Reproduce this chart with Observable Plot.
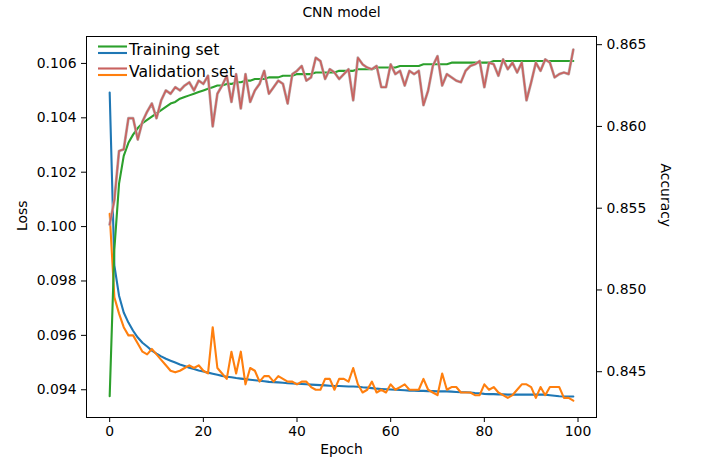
<!DOCTYPE html>
<html><head><meta charset="utf-8">
<script src="https://cdn.jsdelivr.net/npm/d3@7"></script>
<script src="https://cdn.jsdelivr.net/npm/@observablehq/plot@0.6"></script>
<style>
body{margin:0;background:#fff;}
#wrap{position:relative;width:701px;height:465px;font-family:"DejaVu Sans",sans-serif;}
#wrap svg{position:absolute;left:0;top:0;overflow:visible;}
</style></head><body><div id="wrap"></div>
<script>
const title = "CNN model";
const xLabel = "Epoch";
const lossLabel = "Loss";
const accLabel = "Accuracy";
const seriesNames = ["Training set", "Validation set"];
const xTicks = [0, 20, 40, 60, 80, 100];
const lossTicks = [0.094, 0.096, 0.098, 0.100, 0.102, 0.104, 0.106];
const accTicks = [0.845, 0.850, 0.855, 0.860, 0.865];

const trainLoss = [0.10493,0.09857,0.09746,0.09684,0.09647,0.09617,0.09592,0.09573,0.09559,0.09544,
0.09533,0.09523,0.09514,0.09507,0.09500,0.09493,0.09487,0.09481,0.09476,0.09471,
0.09467,0.09463,0.09459,0.09455,0.09451,0.09448,0.09446,0.09443,0.09441,0.09439,
0.09437,0.09435,0.09433,0.09431,0.09429,0.09428,0.09427,0.09426,0.09424,0.09423,
0.09422,0.09421,0.09420,0.09419,0.09418,0.09417,0.09416,0.09415,0.09414,0.09414,
0.09413,0.09412,0.09412,0.09411,0.09409,0.09408,0.09406,0.09404,0.09403,0.09402,
0.09401,0.09400,0.09399,0.09398,0.09397,0.09397,0.09396,0.09396,0.09395,0.09395,
0.09394,0.09394,0.09394,0.09393,0.09392,0.09391,0.09391,0.09390,0.09388,0.09387,
0.09385,0.09384,0.09384,0.09383,0.09383,0.09382,0.09382,0.09382,0.09382,0.09382,
0.09382,0.09382,0.09382,0.09382,0.09380,0.09378,0.09376,0.09375,0.09375,0.09375];

const valLoss = [0.10047,0.0974,0.0968,0.0963,0.0960,0.0960,0.0957,0.0954,0.0953,0.0955,
0.0953,0.0951,0.0949,0.0947,0.09464,0.0947,0.0948,0.0949,0.0948,0.0949,
0.0947,0.0946,0.0963,0.0948,0.0946,0.0944,0.0954,0.0946,0.0954,0.0942,
0.0948,0.0947,0.0943,0.0945,0.0945,0.0943,0.0945,0.0944,0.0943,0.0943,
0.0942,0.0943,0.0943,0.0941,0.0940,0.0940,0.0944,0.0944,0.0940,0.0944,
0.0944,0.0943,0.0948,0.0942,0.0939,0.0940,0.0943,0.0939,0.0940,0.0939,
0.0942,0.0940,0.0941,0.0942,0.0940,0.0940,0.0940,0.0944,0.0940,0.0939,
0.0938,0.0946,0.0940,0.0941,0.0941,0.0939,0.0939,0.0939,0.0938,0.0938,
0.0942,0.0940,0.0941,0.0939,0.0938,0.0937,0.0938,0.0940,0.0942,0.0942,
0.0941,0.0937,0.0941,0.0938,0.0941,0.0941,0.0941,0.0937,0.0937,0.0936];

const trainAcc = [0.8435,0.8525,0.8565,0.8582,0.8590,0.8595,0.8599,0.8602,0.8604,0.8606,
0.8608,0.8610,0.8612,0.8614,0.8615,0.8617,0.8618,0.8619,0.8620,0.8621,
0.8622,0.8623,0.8624,0.8625,0.8625,0.8626,0.8626,0.8627,0.8627,0.8628,
0.8628,0.8629,0.8629,0.8629,0.8630,0.8630,0.8630,0.8631,0.8631,0.8631,
0.8632,0.8632,0.8632,0.8632,0.8633,0.8633,0.8633,0.8633,0.8633,0.8634,
0.8634,0.8634,0.8634,0.8635,0.8635,0.8635,0.8635,0.8636,0.8636,0.8636,
0.8636,0.8636,0.8637,0.8637,0.8637,0.8637,0.8637,0.8638,0.8638,0.8638,
0.8638,0.8638,0.8638,0.8639,0.8639,0.8639,0.8639,0.8639,0.8639,0.8639,
0.8639,0.8639,0.8640,0.8640,0.8640,0.8640,0.8640,0.8640,0.8640,0.8640,
0.8640,0.8640,0.8640,0.8640,0.8640,0.8640,0.8640,0.8640,0.8640,0.8640];

const valAcc = [0.8540,0.8555,0.8585,0.8586,0.8605,0.8605,0.8592,0.8603,0.8609,0.8614,
0.8605,0.8616,0.8622,0.8620,0.8624,0.8622,0.8625,0.8627,0.8622,0.8628,
0.8626,0.8631,0.8600,0.8620,0.8625,0.8631,0.8615,0.8632,0.8611,0.8632,
0.8615,0.8622,0.8626,0.8634,0.8620,0.8624,0.8628,0.8626,0.8614,0.8632,
0.8634,0.8637,0.8628,0.8630,0.8642,0.8640,0.8629,0.8635,0.8633,0.8629,
0.8632,0.8635,0.8616,0.8642,0.8638,0.8636,0.8635,0.8637,0.8624,0.8624,
0.8638,0.8632,0.8634,0.8625,0.8634,0.8632,0.8634,0.8613,0.8622,0.8637,
0.8643,0.8625,0.8632,0.8630,0.8628,0.8627,0.8634,0.8637,0.8638,0.8640,
0.8624,0.8639,0.8638,0.8631,0.8641,0.8635,0.8639,0.8633,0.8639,0.8616,
0.8627,0.8639,0.8634,0.8641,0.8639,0.8630,0.8632,0.8633,0.8632,0.8647];

const colors = {trainLoss:"#1f77b4", valLoss:"#ff7f0e", trainAcc:"#2ca02c", valAcc:"#c9625f"};

const rows = arr => arr.map((v, i) => ({epoch: i, value: v}));

const W = 701, H = 465, ML = 86, MR = 105, MT = 36, MB = 48;
const xDomain = [-4.95, 103.95];
const lossDomain = [0.09298, 0.10699];
const accDomain = [0.8422, 0.8655];
const font = "DejaVu Sans";
const common = {
  width: W, height: H, marginLeft: ML, marginRight: MR, marginTop: MT, marginBottom: MB,
  style: {fontFamily: font, fontSize: "13.9px", background: "transparent", color: "#000", overflow: "visible"}
};

const lossPlot = Plot.plot({
  ...common,
  x: {domain: xDomain, ticks: xTicks, tickFormat: d => String(d), label: null, tickSize: 5, tickPadding: 4},
  y: {domain: lossDomain, ticks: lossTicks, tickFormat: ".3f", label: null, tickSize: 5, tickPadding: 5},
  marks: [
    Plot.line(rows(trainLoss), {x: "epoch", y: "value", stroke: colors.trainLoss, strokeWidth: 2.1}),
    Plot.line(rows(valLoss), {x: "epoch", y: "value", stroke: colors.valLoss, strokeWidth: 2.1}),
    Plot.frame({stroke: "#000", strokeWidth: 1}),
    Plot.text([title], {frameAnchor: "top", dy: -24, lineAnchor: "middle", fontSize: 13.9, fill: "#000"}),
    Plot.text([xLabel], {frameAnchor: "bottom", dy: 36, fill: "#000"}),
    Plot.text([lossLabel], {frameAnchor: "left", dx: -64, dy: 4, rotate: -90, fill: "#000"})
  ]
});

const accPlot = Plot.plot({
  ...common,
  x: {domain: xDomain, axis: null},
  y: {domain: accDomain, axis: "right", ticks: accTicks, tickFormat: ".3f", label: null, tickSize: 5, tickPadding: 5},
  marks: [
    Plot.line(rows(trainAcc), {x: "epoch", y: "value", stroke: colors.trainAcc, strokeWidth: 2.1}),
    Plot.line(rows(valAcc), {x: "epoch", y: "value", stroke: "#b9aaaa", strokeWidth: 2.8}),
    Plot.line(rows(valAcc), {x: "epoch", y: "value", stroke: colors.valAcc, strokeWidth: 1.6}),
    Plot.text([accLabel], {frameAnchor: "right", dx: 69, rotate: 90, fill: "#000"})
  ]
});

const wrap = document.getElementById("wrap");
wrap.appendChild(lossPlot);
wrap.appendChild(accPlot);

// legend (inside the axes, upper left, no frame)
const ns = "http://www.w3.org/2000/svg";
const leg = document.createElementNS(ns, "svg");
leg.setAttribute("width", W); leg.setAttribute("height", H);
leg.style.pointerEvents = "none";
const entries = [
  {name: seriesNames[0], top: colors.trainAcc, bottom: colors.trainLoss, y: 50},
  {name: seriesNames[1], top: colors.valAcc, bottom: colors.valLoss, y: 72}
];
for (const e of entries) {
  for (const [c, dy] of [[e.top, -3.5], [e.bottom, 3]]) {
    const l = document.createElementNS(ns, "line");
    l.setAttribute("x1", 98); l.setAttribute("x2", 127);
    l.setAttribute("y1", e.y + dy); l.setAttribute("y2", e.y + dy);
    l.setAttribute("stroke", c); l.setAttribute("stroke-width", 2.1);
    leg.appendChild(l);
  }
  const t = document.createElementNS(ns, "text");
  t.setAttribute("x", 129); t.setAttribute("y", e.y);
  t.setAttribute("dominant-baseline", "central");
  t.setAttribute("font-family", font); t.setAttribute("font-size", "15.6px");
  t.textContent = e.name;
  leg.appendChild(t);
}
wrap.appendChild(leg);
</script></body></html>
